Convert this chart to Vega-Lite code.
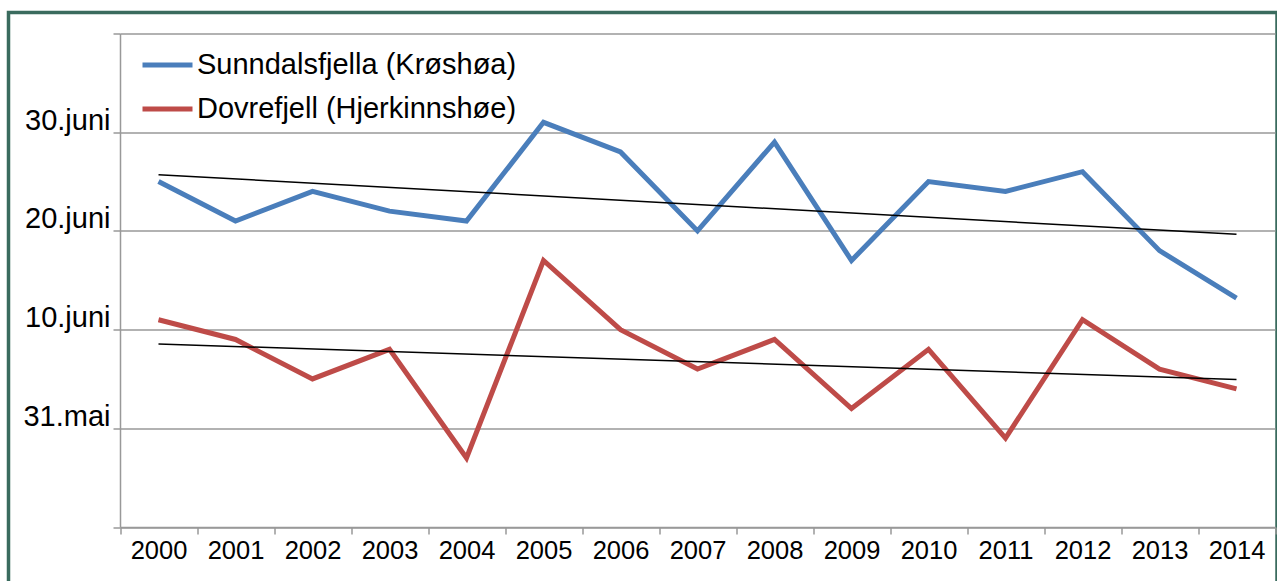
{
  "$schema": "https://vega.github.io/schema/vega-lite/v6.json",
  "autosize": {"type": "none"},
  "width": 1268.5,
  "height": 580,
  "padding": {"left": 8.5, "top": 12.5, "right": 0, "bottom": 0},
  "background": "white",
  "config": {
    "view": {"stroke": "#3a6b5e", "strokeWidth": 3.5, "fill": "white"},
    "font": "Liberation Sans"
  },
  "datasets": {
    "main": [
      {"year": 2000, "series": "Sunndalsfjella (Krøshøa)", "value": 25},
      {"year": 2001, "series": "Sunndalsfjella (Krøshøa)", "value": 21},
      {"year": 2002, "series": "Sunndalsfjella (Krøshøa)", "value": 24},
      {"year": 2003, "series": "Sunndalsfjella (Krøshøa)", "value": 22},
      {"year": 2004, "series": "Sunndalsfjella (Krøshøa)", "value": 21},
      {"year": 2005, "series": "Sunndalsfjella (Krøshøa)", "value": 31},
      {"year": 2006, "series": "Sunndalsfjella (Krøshøa)", "value": 28},
      {"year": 2007, "series": "Sunndalsfjella (Krøshøa)", "value": 20},
      {"year": 2008, "series": "Sunndalsfjella (Krøshøa)", "value": 29},
      {"year": 2009, "series": "Sunndalsfjella (Krøshøa)", "value": 17},
      {"year": 2010, "series": "Sunndalsfjella (Krøshøa)", "value": 25},
      {"year": 2011, "series": "Sunndalsfjella (Krøshøa)", "value": 24},
      {"year": 2012, "series": "Sunndalsfjella (Krøshøa)", "value": 26},
      {"year": 2013, "series": "Sunndalsfjella (Krøshøa)", "value": 18},
      {"year": 2014, "series": "Sunndalsfjella (Krøshøa)", "value": 13.2},
      {"year": 2000, "series": "Dovrefjell (Hjerkinnshøe)", "value": 11},
      {"year": 2001, "series": "Dovrefjell (Hjerkinnshøe)", "value": 9},
      {"year": 2002, "series": "Dovrefjell (Hjerkinnshøe)", "value": 5},
      {"year": 2003, "series": "Dovrefjell (Hjerkinnshøe)", "value": 8},
      {"year": 2004, "series": "Dovrefjell (Hjerkinnshøe)", "value": -3},
      {"year": 2005, "series": "Dovrefjell (Hjerkinnshøe)", "value": 17},
      {"year": 2006, "series": "Dovrefjell (Hjerkinnshøe)", "value": 10},
      {"year": 2007, "series": "Dovrefjell (Hjerkinnshøe)", "value": 6},
      {"year": 2008, "series": "Dovrefjell (Hjerkinnshøe)", "value": 9},
      {"year": 2009, "series": "Dovrefjell (Hjerkinnshøe)", "value": 2},
      {"year": 2010, "series": "Dovrefjell (Hjerkinnshøe)", "value": 8},
      {"year": 2011, "series": "Dovrefjell (Hjerkinnshøe)", "value": -1},
      {"year": 2012, "series": "Dovrefjell (Hjerkinnshøe)", "value": 11},
      {"year": 2013, "series": "Dovrefjell (Hjerkinnshøe)", "value": 6},
      {"year": 2014, "series": "Dovrefjell (Hjerkinnshøe)", "value": 4}
    ],
    "trend": [
      {"year": 2000, "series": "Sunndalsfjella (Krøshøa)", "value": 25.7},
      {"year": 2014, "series": "Sunndalsfjella (Krøshøa)", "value": 19.65},
      {"year": 2000, "series": "Dovrefjell (Hjerkinnshøe)", "value": 8.55},
      {"year": 2014, "series": "Dovrefjell (Hjerkinnshøe)", "value": 4.95}
    ]
  },
  "encoding": {
    "x": {
      "field": "year",
      "type": "ordinal",
      "scale": {"type": "band", "range": [111.5, 1266.5], "paddingInner": 0, "paddingOuter": 0},
      "axis": {
        "title": null,
        "offset": -65.5,
        "labelAngle": 0,
        "tickBand": "extent",
        "tickSize": 7,
        "tickWidth": 1.5,
        "tickColor": "#999999",
        "domainColor": "#999999",
        "domainWidth": 1.5,
        "labelFontSize": 25.5,
        "labelColor": "black",
        "labelPadding": 4,
        "labelFont": "Liberation Sans",
        "grid": false
      }
    },
    "y": {
      "field": "value",
      "type": "quantitative",
      "scale": {"domain": [-10, 40], "range": [514.5, 21], "nice": false, "zero": false},
      "axis": {
        "title": null,
        "offset": -111.5,
        "values": [-10, 0, 10, 20, 30, 40],
        "labelExpr": "datum.value == 30 ? '30.juni' : datum.value == 20 ? '20.juni' : datum.value == 10 ? '10.juni' : datum.value == 0 ? '31.mai' : ''",
        "grid": true,
        "gridColor": "#999999",
        "gridWidth": 1.5,
        "tickSize": 7,
        "tickWidth": 1.5,
        "tickColor": "#999999",
        "domainColor": "#999999",
        "domainWidth": 1.5,
        "labelFontSize": 29,
        "labelColor": "black",
        "labelFont": "Liberation Sans",
        "labelBaseline": "alphabetic",
        "labelOffset": -3,
        "labelPadding": 3,
        "labelOverlap": false
      }
    }
  },
  "layer": [
    {
      "data": {"name": "main"},
      "mark": {"type": "line", "strokeWidth": 5, "strokeJoin": "miter", "strokeCap": "butt"},
      "encoding": {
        "color": {
          "field": "series",
          "type": "nominal",
          "scale": {
            "domain": ["Sunndalsfjella (Krøshøa)", "Dovrefjell (Hjerkinnshøe)"],
            "range": ["#4a7ebb", "#be4b48"]
          },
          "legend": {
            "title": null,
            "orient": "none",
            "legendX": 131.5,
            "legendY": 25,
            "symbolType": "stroke",
            "symbolSize": 2500,
            "symbolStrokeWidth": 5,
            "labelFontSize": 29,
            "labelFont": "Liberation Sans",
            "labelColor": "black",
            "labelOffset": 2,
            "rowPadding": 1,
            "padding": 0,
            "labelLimit": 600
          }
        }
      }
    },
    {
      "data": {"name": "trend"},
      "mark": {"type": "line", "strokeWidth": 1.5, "color": "black"},
      "encoding": {
        "detail": {"field": "series", "type": "nominal"}
      }
    }
  ]
}
